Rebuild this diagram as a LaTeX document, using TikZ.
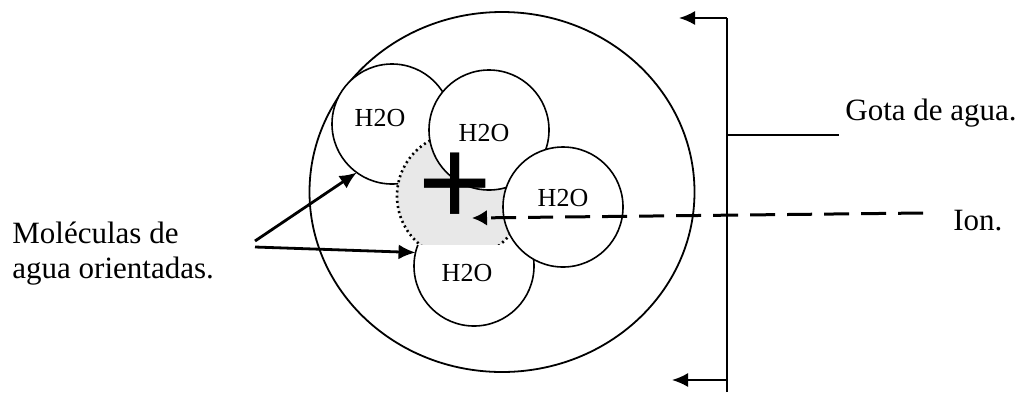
\documentclass[tikz,border=0pt]{standalone}
\usepackage{fontspec}
\setmainfont{Liberation Serif}
\usepackage{tikz}
\usetikzlibrary{shapes.geometric, arrows.meta, positioning, calc}
\tikzstyle{drop} = [ellipse, minimum width=192.5pt, minimum height=180pt, inner sep=0pt, draw=black, line width=0.9pt]
\tikzstyle{molecule} = [circle, minimum size=60pt, inner sep=0pt, outer sep=0pt, draw=black, line width=0.8pt, fill=white]
\tikzstyle{ionzone} = [circle, minimum size=63pt, inner sep=0pt, fill=black!9, draw=black, line width=1.3pt, dash pattern=on 1pt off 1.6pt]
\tikzstyle{formula} = [font=\fontsize{13}{13}\selectfont, inner sep=0pt]
\tikzstyle{note} = [font=\fontsize{15.5}{17.5}\selectfont, inner sep=0pt, align=left]
\tikzstyle{arrow} = [line width=1.4pt, -{Latex[length=8.5pt,width=7.5pt]}]
\tikzstyle{bracket} = [line width=0.9pt]
\tikzstyle{ionpath} = [line width=1.5pt, dash pattern=on 12.5pt off 6pt, -{Latex[length=7.5pt,width=8pt]}]

\begin{document}
\begin{tikzpicture}[x=0.5pt, y=-0.5pt]
        \useasboundingbox (0,0) rectangle (1021,392);
        % droplet and molecules
        \node (drop) [drop] at (502,192) {};
        \node (w1) [molecule] at (392,124) {};
        \begin{scope}
            \clip (380,100) rectangle (560,245);
            \node (zone) [ionzone] at (460,196) {};
        \end{scope}
        \node (w2) [molecule] at (489,130) {};
        \begin{scope}
            \clip (400,245) rectangle (560,340);
            \node (w4) [molecule] at (474,266) {};
        \end{scope}
        \node (w3) [molecule] at (563,207) {};

        \node (f1) [formula] at (380,118) {H2O};
        \node (f2) [formula] at (484,133) {H2O};
        \node (f3) [formula] at (563,198) {H2O};
        \node (f4) [formula] at (467,273) {H2O};
        \node (ion) [font=\fontsize{66}{66}\selectfont\bfseries, inner sep=0pt] at (455,190) {+};

        % labels
        \node (mol) [note, anchor=base west] at (12,278) {Moléculas de\\agua orientadas.};
        \node (gota) [note, anchor=base west] at (845,120) {Gota de agua.};
        \node (ionlbl) [note, anchor=base west] at (953,230) {Ion.};

        % connectors
        \coordinate (m1) at (255,241);
        \coordinate (m2) at (255,247);
        \draw [arrow] (m1) -- (w1.234);
        \draw [arrow] (m2) -- (w4.167);

        \coordinate (ionend) at (923,213);
        \coordinate (tip) at (472,218);
        \draw [ionpath] (ionend) -- (tip);

        \coordinate (btop) at (727,18);
        \coordinate (bbot) at (727,392);
        \coordinate (bmid) at (727,380);
        \coordinate (atop) at (679,18);
        \coordinate (abot) at (672,380);
        \coordinate (gl) at (727,135);
        \coordinate (gr) at (839,135);
        \draw [bracket] (bbot) -- (btop);
        \draw [bracket, -{Latex[length=8pt,width=7pt]}] (btop) -- (atop);
        \draw [bracket, -{Latex[length=8pt,width=7pt]}] (bmid) -- (abot);
        \draw [bracket] (gl) -- (gr);
    \end{tikzpicture}
\end{document}
